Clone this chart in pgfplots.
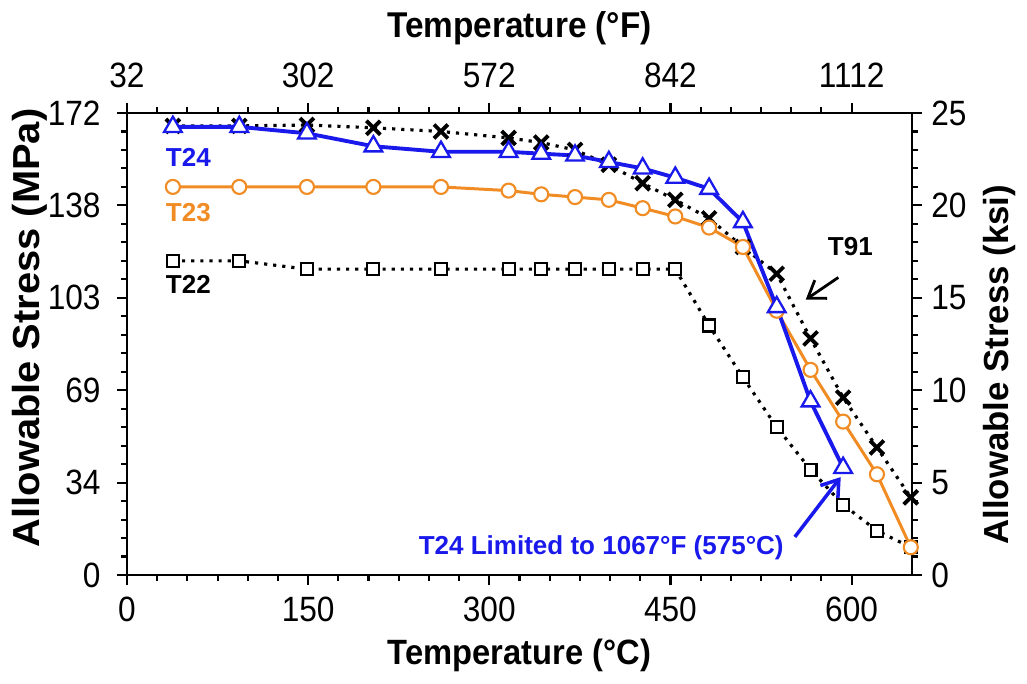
\documentclass[border=0pt]{standalone}
\usepackage{fontspec}
\setmainfont{Liberation Sans}
\newfontfamily\ticksfont[FakeStretch=0.9]{Liberation Sans}
\newfontfamily\xlabfont[FakeStretch=0.93]{Liberation Sans}
\newfontfamily\ylabfont[FakeStretch=1.06]{Liberation Sans}
\usepackage{pgfplots}
\pgfplotsset{compat=1.18}
\usetikzlibrary{arrows.meta}
\definecolor{tblue}{RGB}{25,25,235}
\definecolor{torange}{RGB}{240,140,35}

\begin{document}
\begin{tikzpicture}
\pgfplotsset{
  every axis/.append style={
    width=7.85cm, height=4.62cm, scale only axis,
    xmin=0, xmax=650, ymin=0, ymax=25,
    xtick={0,150,...,600}, minor x tick num=5,
    ytick={0,5,...,25}, minor y tick num=4,
    tick align=outside,
    major tick length=0.1cm, minor tick length=0.06cm,
    tick style={black, line width=0.6pt},
    axis line style={line width=0.8pt},
    ticklabel style={font=\ticksfont\fontsize{10}{12}\selectfont},
    /pgf/number format/assume math mode=true,
  }
}
% top / right axis: deg F and ksi
\begin{axis}[
  axis x line*=top, axis y line*=right,
  xticklabels={32,302,572,842,1112},
  yticklabels={0,5,10,15,20,25},
  xticklabel style={yshift=0.03cm},
  yticklabel style={xshift=-0.03cm},
  xlabel={Temperature (°F)},
  xlabel style={at={(axis description cs:0.5,1.184)}, anchor=center,
    font=\xlabfont\fontsize{10.2}{12}\selectfont\bfseries},
  ylabel={Allowable Stress (ksi)},
  ylabel style={at={(axis description cs:1.112,0.455)}, anchor=center, rotate=0,
    font=\fontsize{9.9}{12}\selectfont\bfseries},
]
\end{axis}
% bottom / left axis: deg C and MPa, data in ksi
\begin{axis}[
  axis x line*=bottom, axis y line*=left,
  yticklabels={0,34,69,103,138,172},
  yticklabel style={xshift=-0.04cm},
  xlabel={Temperature (°C)},
  xlabel style={at={(axis description cs:0.5,-0.173)}, anchor=center,
    font=\xlabfont\fontsize{10}{12}\selectfont\bfseries},
  ylabel={Allowable Stress (MPa)},
  ylabel style={at={(axis description cs:-0.124,0.535)}, anchor=center,
    font=\ylabfont\fontsize{10.7}{12}\selectfont\bfseries},
  clip=false,
]
% T22
\addplot[black, line width=0.9pt, dash pattern=on 0.9pt off 1.7pt, mark=square*, mark size=1.7pt,
  mark options={solid, fill=white, line width=0.6pt}]
  coordinates {(38,17.0)(93,17.0)(149,16.55)(204,16.55)(260,16.55)(316,16.55)(343,16.55)
  (371,16.55)(399,16.55)(427,16.55)(454,16.55)(482,13.5)(510,10.7)(538,8.0)(566,5.7)
  (593,3.8)(621,2.4)(649,1.5)};
% T91
\addplot[black, line width=0.9pt, dash pattern=on 0.9pt off 1.7pt, mark=x, mark size=2.8pt,
  mark options={solid, line width=1.1pt}]
  coordinates {(38,24.3)(93,24.3)(149,24.35)(204,24.2)(260,24.0)(316,23.65)(343,23.4)
  (371,23.0)(399,22.2)(427,21.2)(454,20.3)(482,19.3)(510,17.75)(538,16.3)(566,12.8)
  (593,9.6)(621,6.9)(649,4.2)};
% T23
\addplot[torange, line width=0.85pt, mark=*, mark size=2pt,
  mark options={solid, fill=white, line width=0.6pt}]
  coordinates {(38,21.0)(93,21.0)(149,21.0)(204,21.0)(260,21.0)(316,20.8)(343,20.6)
  (371,20.45)(399,20.3)(427,19.85)(454,19.4)(482,18.8)(510,17.75)(538,14.3)(566,11.1)
  (593,8.3)(621,5.45)(649,1.5)};
% T24
\addplot[tblue, line width=1.1pt, mark=triangle*, mark size=2.9pt,
  mark options={solid, fill=white, line width=0.65pt}]
  coordinates {(38,24.25)(93,24.25)(149,23.9)(204,23.2)(260,22.9)(316,22.9)(343,22.8)
  (371,22.7)(399,22.35)(427,22.0)(454,21.5)(482,20.9)(510,19.1)(538,14.5)(566,9.4)(593,5.8)};

\begin{scope}[font=\fontsize{7.4}{9}\selectfont\bfseries]
\node[anchor=west, text=tblue] at (axis cs:22,22.6) {T24};
\node[anchor=west, text=torange] at (axis cs:22,19.6) {T23};
\node[anchor=west] at (axis cs:22,15.7) {T22};
\node at (axis cs:599,17.75) {T91};
\node[anchor=east, text=tblue] at (axis cs:554,1.46) {T24 Limited to 1067°F (575°C)};
\end{scope}
\draw[-{Straight Barb[length=1.6mm,width=2.2mm]}, line width=0.8pt]
  (axis cs:589,16.1) -- (axis cs:562,14.9);
\draw[-{Straight Barb[length=1.6mm,width=2.2mm]}, tblue, line width=1pt]
  (axis cs:553,2.06) -- (axis cs:591,5.3);
\end{axis}
\pgfresetboundingbox
\path[use as bounding box] (-1.27,-1.09) rectangle (9.00,5.75);
\end{tikzpicture}
\end{document}
